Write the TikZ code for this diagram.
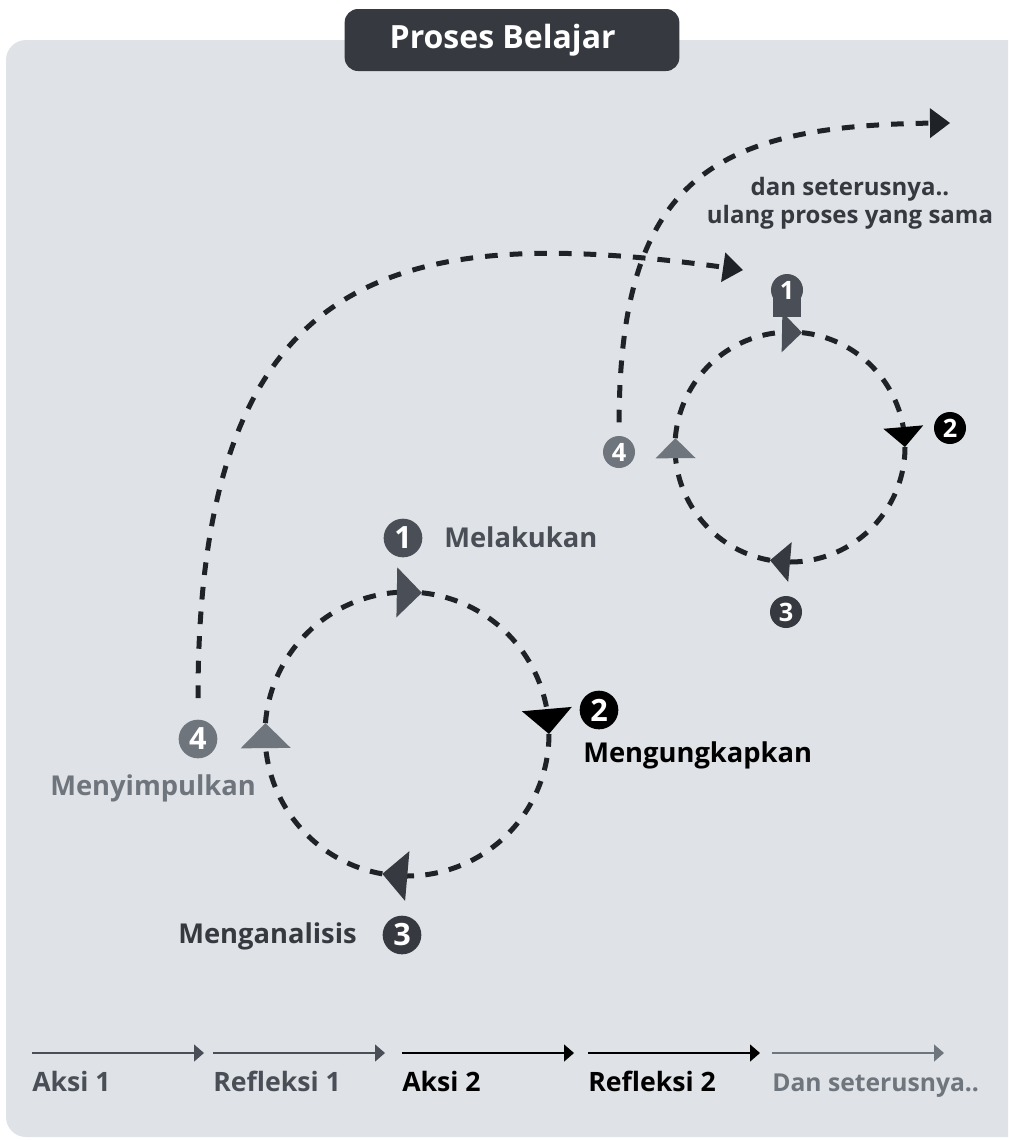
\documentclass[tikz,border=0pt]{standalone}
\usepackage{fontspec}
\setmainfont{Open Sans}
\usetikzlibrary{arrows.meta,bending}
\definecolor{panelgray}{HTML}{DFE2E6}
\definecolor{cone}{HTML}{4A4F57}
\definecolor{cthree}{HTML}{363A40}
\definecolor{cfour}{HTML}{6F757D}
\definecolor{dashcol}{HTML}{1F2227}
\begin{document}
\begin{tikzpicture}[x=0.75pt,y=-0.75pt,
        ring/.style={dashcol,line width=3.75pt,dash pattern=on 9.5pt off 8.5pt},
        bigloop/.style={dashcol,line width=3.75pt,dash pattern=on 9.5pt off 9pt,
            -{Triangle[length=15pt,width=22.5pt,line width=0pt]}},
        bigbadge/.style={circle,inner sep=0pt,minimum size=29pt,text=white,
            font=\bfseries\fontsize{23}{23}\selectfont},
        smallbadge/.style={circle,inner sep=0pt,minimum size=24pt,text=white,
            font=\bfseries\fontsize{19}{19}\selectfont},
        lbl/.style={inner sep=0pt,font=\bfseries\fontsize{20.5}{24}\selectfont},
        timearrow/.style={line width=1.5pt,-{Triangle[length=7.5pt,width=13pt,line width=0pt]}},
        timelabel/.style={inner sep=0pt,anchor=base west,font=\bfseries\fontsize{20}{24}\selectfont}]
    \useasboundingbox (0,0) rectangle (1008,1140);
    % panel and title
    \begin{scope}
        \clip (0,0) rectangle (1008,1140);
        \fill[panelgray,rounded corners=15pt] (6,40) rectangle (1030,1137);
    \end{scope}
    \node[fill=cthree,rounded corners=10pt,minimum width=251pt,minimum height=46.5pt,
        text=white,font=\bfseries\fontsize{24}{24}\selectfont] (title) at (512,40)
        {Proses Belajar\hspace*{14pt}};

    % badges of the first cycle
    \node[bigbadge,fill=cone] (n1a) at (403,538) {1};
    \node[bigbadge,fill=black] (n2a) at (599,710) {2};
    \node[bigbadge,fill=cthree] (n3a) at (402,935) {3};
    \node[bigbadge,fill=cfour] (n4a) at (198,739) {4};

    % badges of the second cycle
    \fill[cone] (773,290) rectangle (801,317);
    \node[smallbadge,fill=cone] (n1b) at (787,290) {1};
    \node[smallbadge,fill=black] (n2b) at (950,428) {2};
    \node[smallbadge,fill=cthree] (n3b) at (786,612) {3};
    \node[smallbadge,fill=cfour] (n4b) at (619,452) {4};

    % long loops to the next cycle
    \coordinate (loopA) at (743,270);
    \coordinate (loopB) at (950,123);
    \draw[bigloop,shorten <=16pt] (n4a.north) .. controls (198,260) and (400,220) .. (loopA);
    \draw[bigloop,shorten <=10pt] (n4b.north) .. controls (620,170) and (720,123) .. (loopB);

    % the two cycles
    \coordinate (c1) at (407,734);
    \coordinate (c2) at (790,447);
    \foreach \a/\b/\col in {-175.6/-84/cone,-84/0/black,0/100/cthree,100/184.4/cfour}{
        \draw[ring,-{Triangle[length=18.75pt,width=37.5pt,line width=0pt,color=\col]}]
            (c1) ++(\a:142) arc[start angle=\a,end angle=\b,radius=142];
        \draw[ring,-{Triangle[length=15pt,width=30pt,line width=0pt,color=\col]}]
            (c2) ++(\a:115) arc[start angle=\a,end angle=\b,radius=115];
    }

    % labels
    \node[lbl,text=cone,anchor=base west] (melakukan) at (444,547) {Melakukan};
    \node[lbl,anchor=base west] (mengungkapkan) at (583,762) {Mengungkapkan};
    \node[lbl,text=cfour,anchor=base west] (menyimpulkan) at (50,795) {Menyimpulkan};
    \node[lbl,text=cthree,anchor=base west] (menganalisis) at (178,943) {Menganalisis};
    \node[inner sep=0pt,align=center,anchor=base,text=cthree,
        font=\bfseries\fontsize{18}{21}\selectfont] (lanjut) at (850,223)
        {dan seterusnya..\\ulang proses yang sama};

    % time line
    \foreach \i/\x/\col/\txt in {1/32/cone/Aksi 1,2/213/cone/Refleksi 1,3/402/black/Aksi 2,
            4/588/black/Refleksi 2}{
        \coordinate (s\i) at (\x,1053);
        \coordinate (e\i) at (\x+172,1053);
        \draw[timearrow,\col] (s\i) -- (e\i);
        \node[timelabel,text=\col] (t\i) at (\x,1091) {\txt};
    }
    \coordinate (s5) at (772,1053);
    \coordinate (e5) at (944,1053);
    \draw[timearrow,cfour] (s5) -- (e5);
    \node[timelabel,text=cfour,font=\bfseries\fontsize{18.5}{22}\selectfont] (t5) at (772,1091)
        {Dan seterusnya..};
\end{tikzpicture}
\end{document}
